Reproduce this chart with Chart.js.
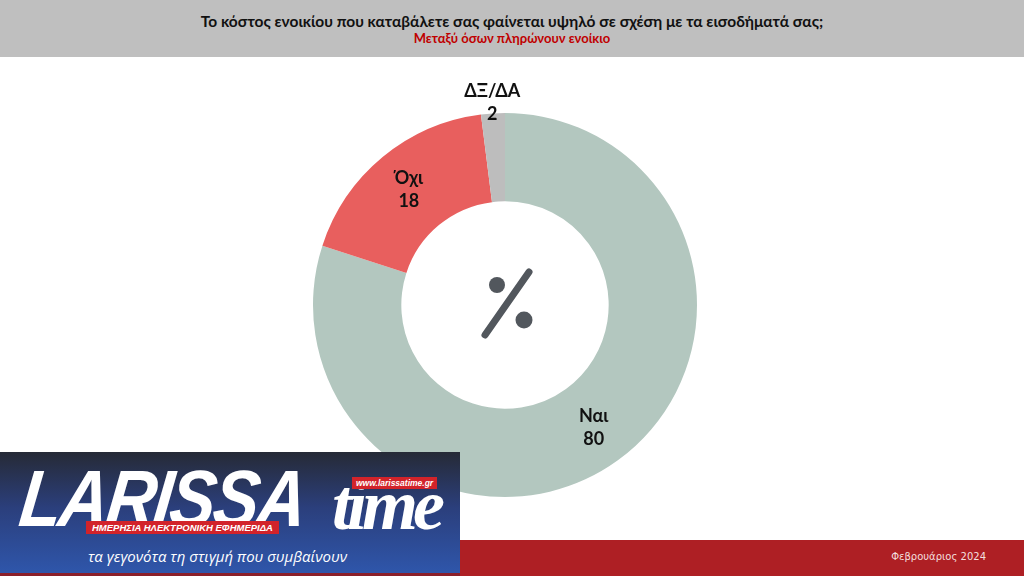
<!DOCTYPE html>
<html lang="el">
<head>
<meta charset="utf-8">
<title>Κόστος ενοικίου</title>
<script src="https://cdn.jsdelivr.net/npm/chart.js@4.4.1/dist/chart.umd.min.js"></script>
<style>
  html, body { margin: 0; padding: 0; }
  body { width: 1024px; height: 576px; position: relative; overflow: hidden; background: #fff; font-family: "Lato", "Open Sans", sans-serif; }
  #header { position: absolute; left: 0; top: 0; width: 1024px; height: 57px; background: #bfbfbf; text-align: center; }
  #header .t1 { position: absolute; left: 0; right: 0; top: 12px; font-size: 15.5px; font-weight: bold; color: #111; }
  #header .t2 { position: absolute; left: 0; right: 0; top: 30px; font-size: 13px; font-weight: bold; color: #c00000; }
  #chartBox { position: absolute; left: 265px; top: 65px; width: 480px; height: 480px; }
  #footer { position: absolute; left: 0; top: 540px; width: 1024px; height: 36px; background: #ae1f24; }
  #footer .date { position: absolute; right: 38px; top: 11px; font-size: 10px; color: #f3dede; font-family: "DejaVu Sans", sans-serif; }
  #logo { position: absolute; left: 0; top: 452px; width: 460px; height: 124px; background: linear-gradient(#262a36 0%, #2b3f7c 45%, #2f57ad 100%); overflow: hidden; }
  #logo .big { position: absolute; left: 26px; top: 1px; font-family: "Liberation Sans", Arial, sans-serif; font-weight: bold; font-style: italic; font-size: 80px; color: #fff; letter-spacing: -3px; transform: scaleX(0.86) skewX(-8deg); transform-origin: left top; }
  #logo .time { position: absolute; left: 332px; top: 12px; font-family: "Liberation Serif", serif; font-style: italic; font-weight: bold; font-size: 72px; color: #fff; letter-spacing: -5px; }
  #logo .url { position: absolute; left: 352px; top: 25px; background: #d2232a; color: #fff; font-family: "Liberation Sans", sans-serif; font-weight: bold; font-style: italic; font-size: 8.5px; padding: 1px 4px; }
  #logo .tag { position: absolute; left: 86px; top: 69px; background: #d2232a; color: #fff; font-family: "Liberation Sans", sans-serif; font-weight: bold; font-style: italic; font-size: 9.5px; padding: 1px 6px; }
  #logo .sub { position: absolute; left: 88px; top: 94px; color: #fff; font-family: "Open Sans", sans-serif; font-style: italic; font-size: 15px; }
  #logo .bar { position: absolute; left: 0; bottom: 0; width: 460px; height: 3px; background: #8b1f2a; }
</style>
</head>
<body>
<div id="header">
  <div class="t1">Το κόστος ενοικίου που καταβάλετε σας φαίνεται υψηλό σε σχέση με τα εισοδήματά σας;</div>
  <div class="t2">Μεταξύ όσων πληρώνουν ενοίκιο</div>
</div>

<div id="chartBox"><canvas id="grafico-enoikio"></canvas></div>

<div id="footer"><div class="date">Φεβρουάριος 2024</div></div>

<div id="logo">
  <div class="big">LARISSA</div>
  <div class="time">time</div>
  <div class="url">www.larissatime.gr</div>
  <div class="tag">ΗΜΕΡΗΣΙΑ ΗΛΕΚΤΡΟΝΙΚΗ ΕΦΗΜΕΡΙΔΑ</div>
  <div class="sub">τα γεγονότα τη στιγμή που συμβαίνουν</div>
  <div class="bar"></div>
</div>

<script>
// δεδομένα
const katigories = ['Ναι', 'Όχι', 'ΔΞ/ΔΑ'];
const times = [80, 18, 2];
const xromata = ['#b3c7bf', '#e85f5e', '#bdbdbd'];

// ετικέτες πάνω στα κομμάτια
const etiketesPlugin = {
  id: 'etiketes',
  afterDatasetsDraw(chart) {
    const ctx = chart.ctx;
    const meta = chart.getDatasetMeta(0);
    ctx.save();
    ctx.fillStyle = '#111';
    ctx.font = 'bold 18px "Lato", sans-serif';
    ctx.textAlign = 'center';
    ctx.textBaseline = 'middle';
    meta.data.forEach((arc, i) => {
      const mid = (arc.startAngle + arc.endAngle) / 2;
      // το μικρό κομμάτι βγαίνει έξω
      const r = times[i] < 5 ? arc.outerRadius + 11 : (arc.innerRadius + arc.outerRadius) / 2 + 3;
      const x = arc.x + Math.cos(mid) * r;
      const y = arc.y + Math.sin(mid) * r;
      ctx.fillText(katigories[i], x, y - 11);
      ctx.fillText(String(times[i]), x, y + 12);
    });
    ctx.restore();
  }
};

// σύμβολο % στο κέντρο
const kentroPlugin = {
  id: 'kentro',
  afterDraw(chart) {
    const arc = chart.getDatasetMeta(0).data[0];
    if (!arc) return;
    const ctx = chart.ctx;
    const cx = arc.x, cy = arc.y;
    ctx.save();
    ctx.strokeStyle = '#52575d';
    ctx.fillStyle = '#52575d';
    ctx.lineWidth = 7;
    ctx.lineCap = 'round';
    ctx.beginPath();
    ctx.moveTo(cx - 20, cy + 30);
    ctx.lineTo(cx + 24, cy - 33);
    ctx.stroke();
    ctx.beginPath();
    ctx.arc(cx - 8, cy - 20, 8, 0, Math.PI * 2);
    ctx.fill();
    ctx.beginPath();
    ctx.arc(cx + 19, cy + 15, 8.5, 0, Math.PI * 2);
    ctx.fill();
    ctx.restore();
  }
};

new Chart(document.getElementById('grafico-enoikio'), {
  type: 'doughnut',
  data: {
    labels: katigories,
    datasets: [{
      data: times,
      backgroundColor: xromata,
      borderWidth: 0
    }]
  },
  options: {
    responsive: true,
    maintainAspectRatio: false,
    animation: false,
    cutout: '54%',
    layout: { padding: 48 },
    plugins: {
      legend: { display: false },
      tooltip: { enabled: false }
    }
  },
  plugins: [etiketesPlugin, kentroPlugin]
});
</script>
</body>
</html>
